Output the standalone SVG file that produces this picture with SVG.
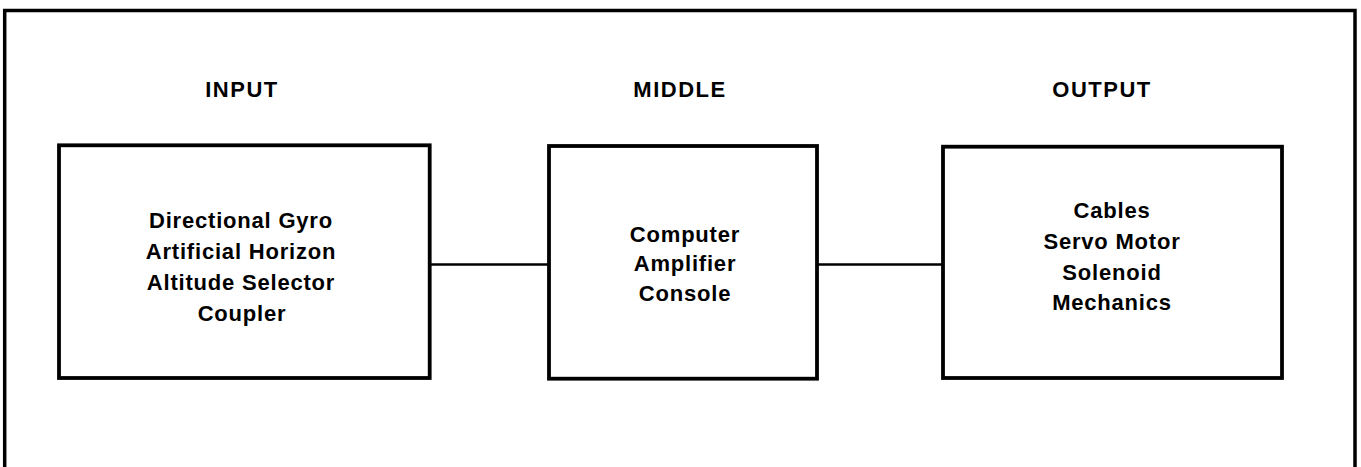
<svg xmlns="http://www.w3.org/2000/svg" width="1361" height="467" viewBox="0 0 1361 467">
<style>
.frame{fill:none;stroke:#000;stroke-width:3.5}
.box{fill:#fff;stroke:#000;stroke-width:3.8}
.conn{fill:none;stroke:#000;stroke-width:2.5}
text{font-family:"Liberation Sans",Arial,sans-serif;font-weight:bold;font-size:22px;fill:#000;text-anchor:middle;letter-spacing:0.8px}
.hdr{letter-spacing:1.5px}
</style>
<rect width="1361" height="467" fill="#fff"/>
<path class="frame" d="M4.7,470 V10.5 H1355 V470"/>
<g id="headers">
<text class="hdr" x="242" y="97">INPUT</text>
<text class="hdr" x="680" y="97">MIDDLE</text>
<text class="hdr" x="1102" y="97">OUTPUT</text>
</g>
<g id="connectors">
<line class="conn" x1="430" y1="264.5" x2="549" y2="264.5"/>
<line class="conn" x1="817" y1="264.5" x2="943" y2="264.5"/>
</g>
<g id="input">
<rect class="box" x="59" y="145.3" width="370.7" height="232.7"/>
<text x="241" y="228">Directional Gyro</text>
<text x="241" y="259">Artificial Horizon</text>
<text x="241" y="290">Altitude Selector</text>
<text x="242" y="321">Coupler</text>
</g>
<g id="middle">
<rect class="box" x="549" y="146" width="268" height="232.7"/>
<text x="685" y="242">Computer</text>
<text x="685" y="271">Amplifier</text>
<text x="685" y="301">Console</text>
</g>
<g id="output">
<rect class="box" x="943" y="146.7" width="339" height="231.3"/>
<text x="1112" y="218">Cables</text>
<text x="1112" y="249">Servo Motor</text>
<text x="1112" y="280">Solenoid</text>
<text x="1112" y="310">Mechanics</text>
</g>
</svg>
